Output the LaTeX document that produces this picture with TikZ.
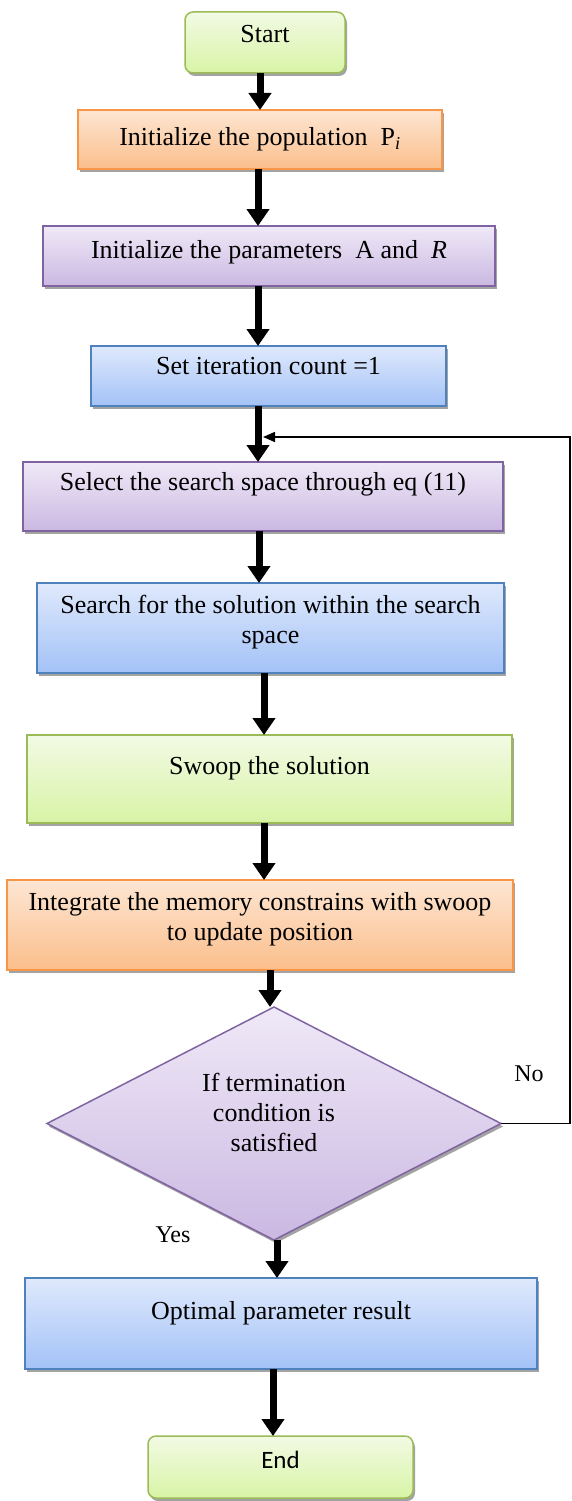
\documentclass[tikz,border=0pt]{standalone}
\usepackage{fontspec}
\setmainfont{Liberation Serif}
\newfontfamily\calibri{Carlito}
\usepackage{tikz}
\usetikzlibrary{arrows.meta,positioning,shapes.geometric,shadows}
\usepackage{xcolor}
\definecolor{grnD}{HTML}{9BBB59}
\definecolor{grnT}{HTML}{F2FAE4}
\definecolor{grnB}{HTML}{D8F4A6}
\definecolor{orgD}{HTML}{F79646}
\definecolor{orgT}{HTML}{FDE6D3}
\definecolor{orgB}{HTML}{FBBE8B}
\definecolor{purD}{HTML}{8064A2}
\definecolor{purT}{HTML}{EFE9F7}
\definecolor{purB}{HTML}{CBB8E2}
\definecolor{bluD}{HTML}{4F81BD}
\definecolor{bluT}{HTML}{DFE9FC}
\definecolor{bluB}{HTML}{A3C2F7}

\begin{document}
\begin{tikzpicture}
        \tikzset{box/.style={line width=1.5pt,inner sep=0pt,outer sep=0pt,align=center,
            font=\fontsize{26pt}{30pt}\selectfont,
            drop shadow={shadow xshift=2pt,shadow yshift=-3pt,fill=black!45,opacity=0.8}},
          sline/.style={text height=18pt},
          grnbox/.style={box,draw=grnD,top color=grnT,bottom color=grnB},
          orgbox/.style={box,draw=orgD,top color=orgT,bottom color=orgB},
          purbox/.style={box,draw=purD,top color=purT,bottom color=purB},
          blubox/.style={box,draw=bluD,top color=bluT,bottom color=bluB},
          flow/.style={line width=7pt,-{Triangle[length=17pt,width=22pt]}},
          backline/.style={line width=1.5pt,-{Triangle[length=12pt,width=10pt]}},
          lbl/.style={font=\fontsize{24pt}{28pt}\selectfont}}
        \useasboundingbox (0,0) rectangle (572pt,-1501pt);
        \node[grnbox,sline,rounded corners=8pt,minimum width=160pt,minimum height=61pt,text depth=18pt]
            (start) at (265pt,-42.5pt) {Start};
        \node[orgbox,sline,minimum width=364pt,minimum height=59pt,text depth=6pt,
            below=37pt of start,xshift=-5pt] (pop) {Initialize the population \ P\textsubscript{\textit{i}}};
        \node[purbox,sline,minimum width=452pt,minimum height=60pt,text depth=14pt,
            below=57pt of pop,xshift=9pt] (param) {Initialize the parameters \ A and \ \textit{R}};
        \node[blubox,sline,minimum width=355pt,minimum height=60pt,text depth=22pt,
            below=60pt of param,xshift=-0.5pt] (iter) {Set iteration count =1};
        \node[purbox,sline,minimum width=480pt,minimum height=69pt,text depth=30pt,
            below=56pt of iter,xshift=-5.5pt] (sel) {Select the search space through eq (11)};
        \node[blubox,minimum width=467pt,minimum height=90pt,text depth=17pt,
            below=52pt of sel,xshift=7.5pt] (search) {Search for the solution within the search\\space};
        \node[grnbox,sline,minimum width=485pt,minimum height=88pt,text depth=28pt,
            below=62pt of search,xshift=-1pt] (swoop) {Swoop the solution};
        \node[orgbox,minimum width=506pt,minimum height=90pt,text depth=18pt,
            below=57pt of swoop,xshift=-9.5pt] (integ) {Integrate the memory constrains with swoop\\to update position};
        \node[purbox,shape=diamond,aspect=1.95,minimum width=454pt,minimum height=233pt,text depth=23pt,
            below=37pt of integ,xshift=14pt] (cond) {If termination\\condition is\\satisfied};
        \node[blubox,sline,minimum width=512pt,minimum height=91pt,text depth=27pt,
            below=38pt of cond,xshift=7pt] (result) {Optimal parameter result};
        \node[grnbox,sline,rounded corners=8pt,minimum width=265pt,minimum height=62pt,text depth=16pt,
            font=\calibri\fontsize{25pt}{30pt}\selectfont,
            below=67pt of result,xshift=-0.5pt] (stop) {End};
        \node[lbl] (no) at ([xshift=28pt,yshift=50pt]cond.east) {No};
        \node[lbl] (yes) at ([xshift=-101pt,yshift=5pt]cond.south) {Yes};
        \draw[flow] ([xshift=-5pt]start.south) -- ([xshift=-5pt]start.south |- pop.north);
        \draw[flow] ([xshift=-2pt]pop.south) -- ([xshift=-2pt]pop.south |- param.north);
        \draw[flow] ([xshift=-11pt]param.south) -- ([xshift=-11pt]param.south |- iter.north);
        \draw[flow] ([xshift=-10.5pt]iter.south) -- ([xshift=-10.5pt]iter.south |- sel.north);
        \draw[flow] ([xshift=-4pt]sel.south) -- ([xshift=-4pt]sel.south |- search.north);
        \draw[flow] ([xshift=-6.5pt]search.south) -- ([xshift=-6.5pt]search.south |- swoop.north);
        \draw[flow] ([xshift=-5.5pt]swoop.south) -- ([xshift=-5.5pt]swoop.south |- integ.north);
        \draw[flow] ([xshift=10pt]integ.south) -- ([xshift=10pt]integ.south |- cond.north);
        \draw[flow] ([xshift=3pt]cond.south) -- ([xshift=3pt]cond.south |- result.north);
        \draw[flow] ([xshift=-8pt]result.south) -- ([xshift=-8pt]result.south |- stop.north);
        \coordinate (back) at ([yshift=25pt]sel.north);
        \coordinate (noend) at ([xshift=69pt]cond.east);
        \draw[backline] (cond.east) -- (noend) -- (noend |- back) -- (back);
    \end{tikzpicture}
\end{document}
